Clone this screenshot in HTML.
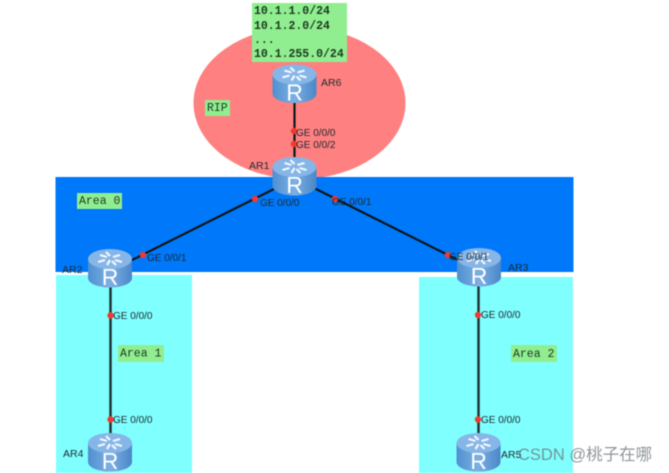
<!DOCTYPE html>
<html><head><meta charset="utf-8"><style>
html,body{margin:0;padding:0;background:#fff}
svg{display:block;filter:blur(.5px)}
.l{font:10px "Liberation Sans",sans-serif;fill:#1a2a33}
.a{font:10.5px "Liberation Sans",sans-serif;fill:#1a2a33}
.m{font:bold 11.5px "Liberation Mono",monospace;fill:#1c3a20}
.m2{font:11.5px "Liberation Mono",monospace;fill:#1c3a20}
.d{fill:#f03a2e}
</style></head><body>
<svg width="669" height="473" viewBox="0 0 669 473" xmlns="http://www.w3.org/2000/svg">
<defs>
<linearGradient id="g" x1="0" x2="1" y1="0" y2="0">
<stop offset="0" stop-color="#4f8fd0"/><stop offset=".5" stop-color="#7db0e2"/><stop offset="1" stop-color="#4a86c8"/>
</linearGradient>
<g id="r">
<path d="M0 10V29C0 34.500 10 38.500 22 38.500S44 34.500 44 29V10Z" fill="url(#g)"/>
<ellipse cx="22" cy="10" rx="22" ry="10" fill="#86b6e8"/>
<g stroke="#fff" stroke-width="2.200" fill="none" opacity=".9">
<path d="M12 6L19 8M10 13L17 11M32 6L25 8M34 13L27 11M19 16L22 11M18 3L22 7M28 16L24 12"/>
</g>
<text x="22" y="36" text-anchor="middle" style="font:23px 'Liberation Sans',sans-serif;fill:#fff">R</text>
</g>
</defs>
<rect width="669" height="473" fill="#fff"/>
<ellipse cx="299.500" cy="103" rx="106" ry="76" fill="#ff8080"/>
<rect x="55.500" y="177" width="518" height="95" fill="#0078fa"/>
<rect x="56" y="275" width="136" height="198" fill="#80ffff"/>
<rect x="419" y="277" width="154" height="196" fill="#80ffff"/>

<rect x="252" y="3" width="95" height="59" fill="#90ee90"/>
<text class="m" x="254" y="14">10.1.1.0/24</text>
<text class="m" x="254" y="29">10.1.2.0/24</text>
<text class="m" x="254" y="43">...</text>
<text class="m" x="254" y="57">10.1.255.0/24</text>
<rect x="205" y="100" width="25" height="16" fill="#90ee90"/>
<text class="m2" x="207" y="111">RIP</text>
<rect x="77" y="193" width="45" height="16" fill="#90ee90"/>
<text class="m2" x="79" y="204">Area 0</text>
<rect x="118" y="345" width="46" height="17" fill="#90ee90"/>
<text class="m2" x="120" y="356.500">Area 1</text>
<rect x="511" y="345" width="46" height="17" fill="#90ee90"/>
<text class="m2" x="513" y="357">Area 2</text>

<g stroke="#0c1518" fill="none">
<path d="M294.500 100V160" stroke-width="2.200"/>
<path d="M280 186L130 261" stroke-width="2.200"/>
<path d="M310 186L460 261" stroke-width="2.200"/>
<path d="M110.500 285V435" stroke-width="2.500" stroke="#1c3438"/>
<path d="M478.500 285V435" stroke-width="2.500" stroke="#1c3438"/>
</g>

<use href="#r" x="272.500" y="64.500"/>
<use href="#r" x="272.500" y="157"/>
<use href="#r" x="88" y="249"/>
<use href="#r" x="457" y="248"/>
<use href="#r" x="88" y="433"/>
<use href="#r" x="456.500" y="433"/>

<circle class="d" cx="294" cy="131" r="3.200"/>
<circle class="d" cx="294" cy="144" r="3.200"/>
<circle class="d" cx="255" cy="199" r="3.200"/>
<circle class="d" cx="143" cy="255" r="3.200"/>
<circle class="d" cx="335" cy="199" r="3.200"/>
<circle class="d" cx="448" cy="255" r="3.200"/>
<circle class="d" cx="110.500" cy="315.500" r="3.200"/>
<circle class="d" cx="110.500" cy="419.500" r="3.200"/>
<circle class="d" cx="478" cy="315" r="3.200"/>
<circle class="d" cx="478" cy="419.500" r="3.200"/>

<text class="l" x="296" y="136">GE 0/0/0</text>
<text class="l" x="296" y="148">GE 0/0/2</text>
<text class="l" x="260" y="206">GE 0/0/0</text>
<text class="l" x="147" y="261">GE 0/0/1</text>
<text class="l" x="332" y="205">GE 0/0/1</text>
<text class="l" x="449" y="260">GE 0/0/1</text>
<text class="l" x="113" y="319">GE 0/0/0</text>
<text class="l" x="113" y="423">GE 0/0/0</text>
<text class="l" x="481" y="318">GE 0/0/0</text>
<text class="l" x="481" y="423">GE 0/0/0</text>

<text class="a" x="321" y="86">AR6</text>
<text class="a" x="249" y="169">AR1</text>
<text class="a" x="62" y="273">AR2</text>
<text class="a" x="508" y="271">AR3</text>
<text class="a" x="63" y="457">AR4</text>
<text class="a" x="501" y="458">AR5</text>

<text x="518" y="460" style="font:16.500px 'Liberation Sans','Noto Sans CJK SC',sans-serif;fill:#6a7478" opacity=".75">CSDN @桃子在哪</text>
</svg>
</body></html>
